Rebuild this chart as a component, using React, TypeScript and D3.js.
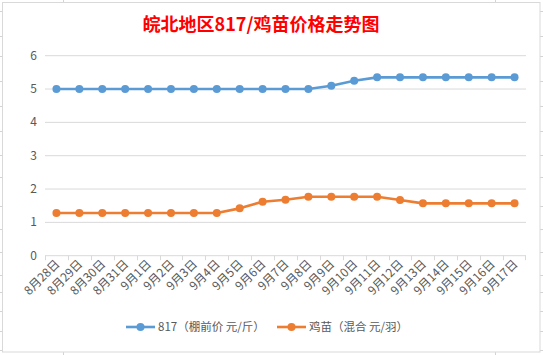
import React from "react";
import * as d3 from "d3";

const categories = ["8月28日","8月29日","8月30日","8月31日","9月1日","9月2日","9月3日","9月4日","9月5日","9月6日","9月7日","9月8日","9月9日","9月10日","9月11日","9月12日","9月13日","9月14日","9月15日","9月16日","9月17日"];
const series817 = [5,5,5,5,5,5,5,5,5,5,5,5,5.1,5.25,5.35,5.35,5.35,5.35,5.35,5.35,5.35];
const seriesChick = [1.28,1.28,1.28,1.28,1.28,1.28,1.28,1.28,1.42,1.62,1.68,1.77,1.77,1.77,1.77,1.67,1.57,1.57,1.57,1.57,1.57];
const yTicks = [0,1,2,3,4,5,6];
const seriesNames = ["817（棚前价 元/斤）", "鸡苗（混合 元/羽）"];
const colors = ["#5b9bd5", "#ed7d31"];
const title = "皖北地区817/鸡苗价格走势图";
const rowLines = [11,36,56,81,106,131,155,177,206,229,252,275,292,311,331,350];

export default function App() {
  const W = 543, H = 355;
  const x = d3.scaleBand<string>().domain(categories).range([45, 526]);
  const y = d3.scaleLinear().domain([0, 6]).range([255.7, 55.7]);
  const cx = (c: string) => (x(c) ?? 0) + x.bandwidth() / 2;
  const line = d3.line<number>().x((_, i) => cx(categories[i])).y(d => y(d));
  const font = "'Microsoft YaHei','Noto Sans CJK SC','Noto Sans',sans-serif";
  const allSeries = [series817, seriesChick];
  return (
    <svg width={W} height={H} style={{ position: "absolute", left: 0, top: 0, background: "#fff" }} fontFamily={font}>
      <g stroke="#d4d4d4" strokeWidth={1}>
        <line x1={63.5} x2={63.5} y1={0} y2={3} />
        <line x1={495.5} x2={495.5} y1={0} y2={3} />
        <line x1={63.5} x2={63.5} y1={352} y2={355} />
        <line x1={495.5} x2={495.5} y1={352} y2={355} />
        {rowLines.map(r => (
          <g key={r}>
            <line x1={0} x2={3} y1={r + 0.5} y2={r + 0.5} />
            <line x1={540} x2={543} y1={r + 0.5} y2={r + 0.5} />
          </g>
        ))}
      </g>
      <rect x={2.5} y={2.5} width={537.5} height={349.5} fill="#fff" stroke="#d9d9d9" strokeWidth={1} />
      <text x={261} y={31} textAnchor="middle" fill="#ff0000" fontWeight="bold" fontSize={18} fontFamily="'Noto Sans CJK SC',sans-serif">{title}</text>
      <g>
        {yTicks.map(t => (
          <g key={t}>
            {t > 0 && <line x1={45} x2={526} y1={y(t)} y2={y(t)} stroke="#d9d9d9" strokeWidth={1} />}
            <text x={37} y={y(t) + 4} textAnchor="end" fontSize={12} fill="#595959">{t}</text>
          </g>
        ))}
      </g>
      <line x1={45} x2={526} y1={y(0)} y2={y(0)} stroke="#d9d9d9" strokeWidth={1} />
      {categories.map((c, i) => (
        <line key={"t" + i} x1={Math.round(x(c) ?? 0) + 0.5} x2={Math.round(x(c) ?? 0) + 0.5} y1={y(0)} y2={y(0) + 4.5} stroke="#d9d9d9" />
      ))}
      <line x1={525.5} x2={525.5} y1={y(0)} y2={y(0) + 4.5} stroke="#d9d9d9" />
      {categories.map((c, i) => (
        <text key={"l" + i} transform={`translate(${cx(c) + 4},${y(0) + 9}) rotate(-45)`} textAnchor="end" fontSize={12} fill="#595959">{c}</text>
      ))}
      {allSeries.map((s, k) => (
        <g key={k}>
          <path d={line(s) ?? ""} fill="none" stroke={colors[k]} strokeWidth={2.6} strokeLinejoin="round" />
          {s.map((v, i) => (
            <circle key={i} cx={cx(categories[i])} cy={y(v)} r={4} fill={colors[k]} />
          ))}
        </g>
      ))}
      <g fontSize={11.5} fill="#595959">
        <line x1={126} x2={155} y1={327} y2={327} stroke={colors[0]} strokeWidth={2.6} />
        <circle cx={140.5} cy={327} r={4} fill={colors[0]} />
        <text x={158} y={331}>{seriesNames[0]}</text>
        <line x1={277} x2={306} y1={327} y2={327} stroke={colors[1]} strokeWidth={2.6} />
        <circle cx={291.5} cy={327} r={4} fill={colors[1]} />
        <text x={309} y={331}>{seriesNames[1]}</text>
      </g>
    </svg>
  );
}
